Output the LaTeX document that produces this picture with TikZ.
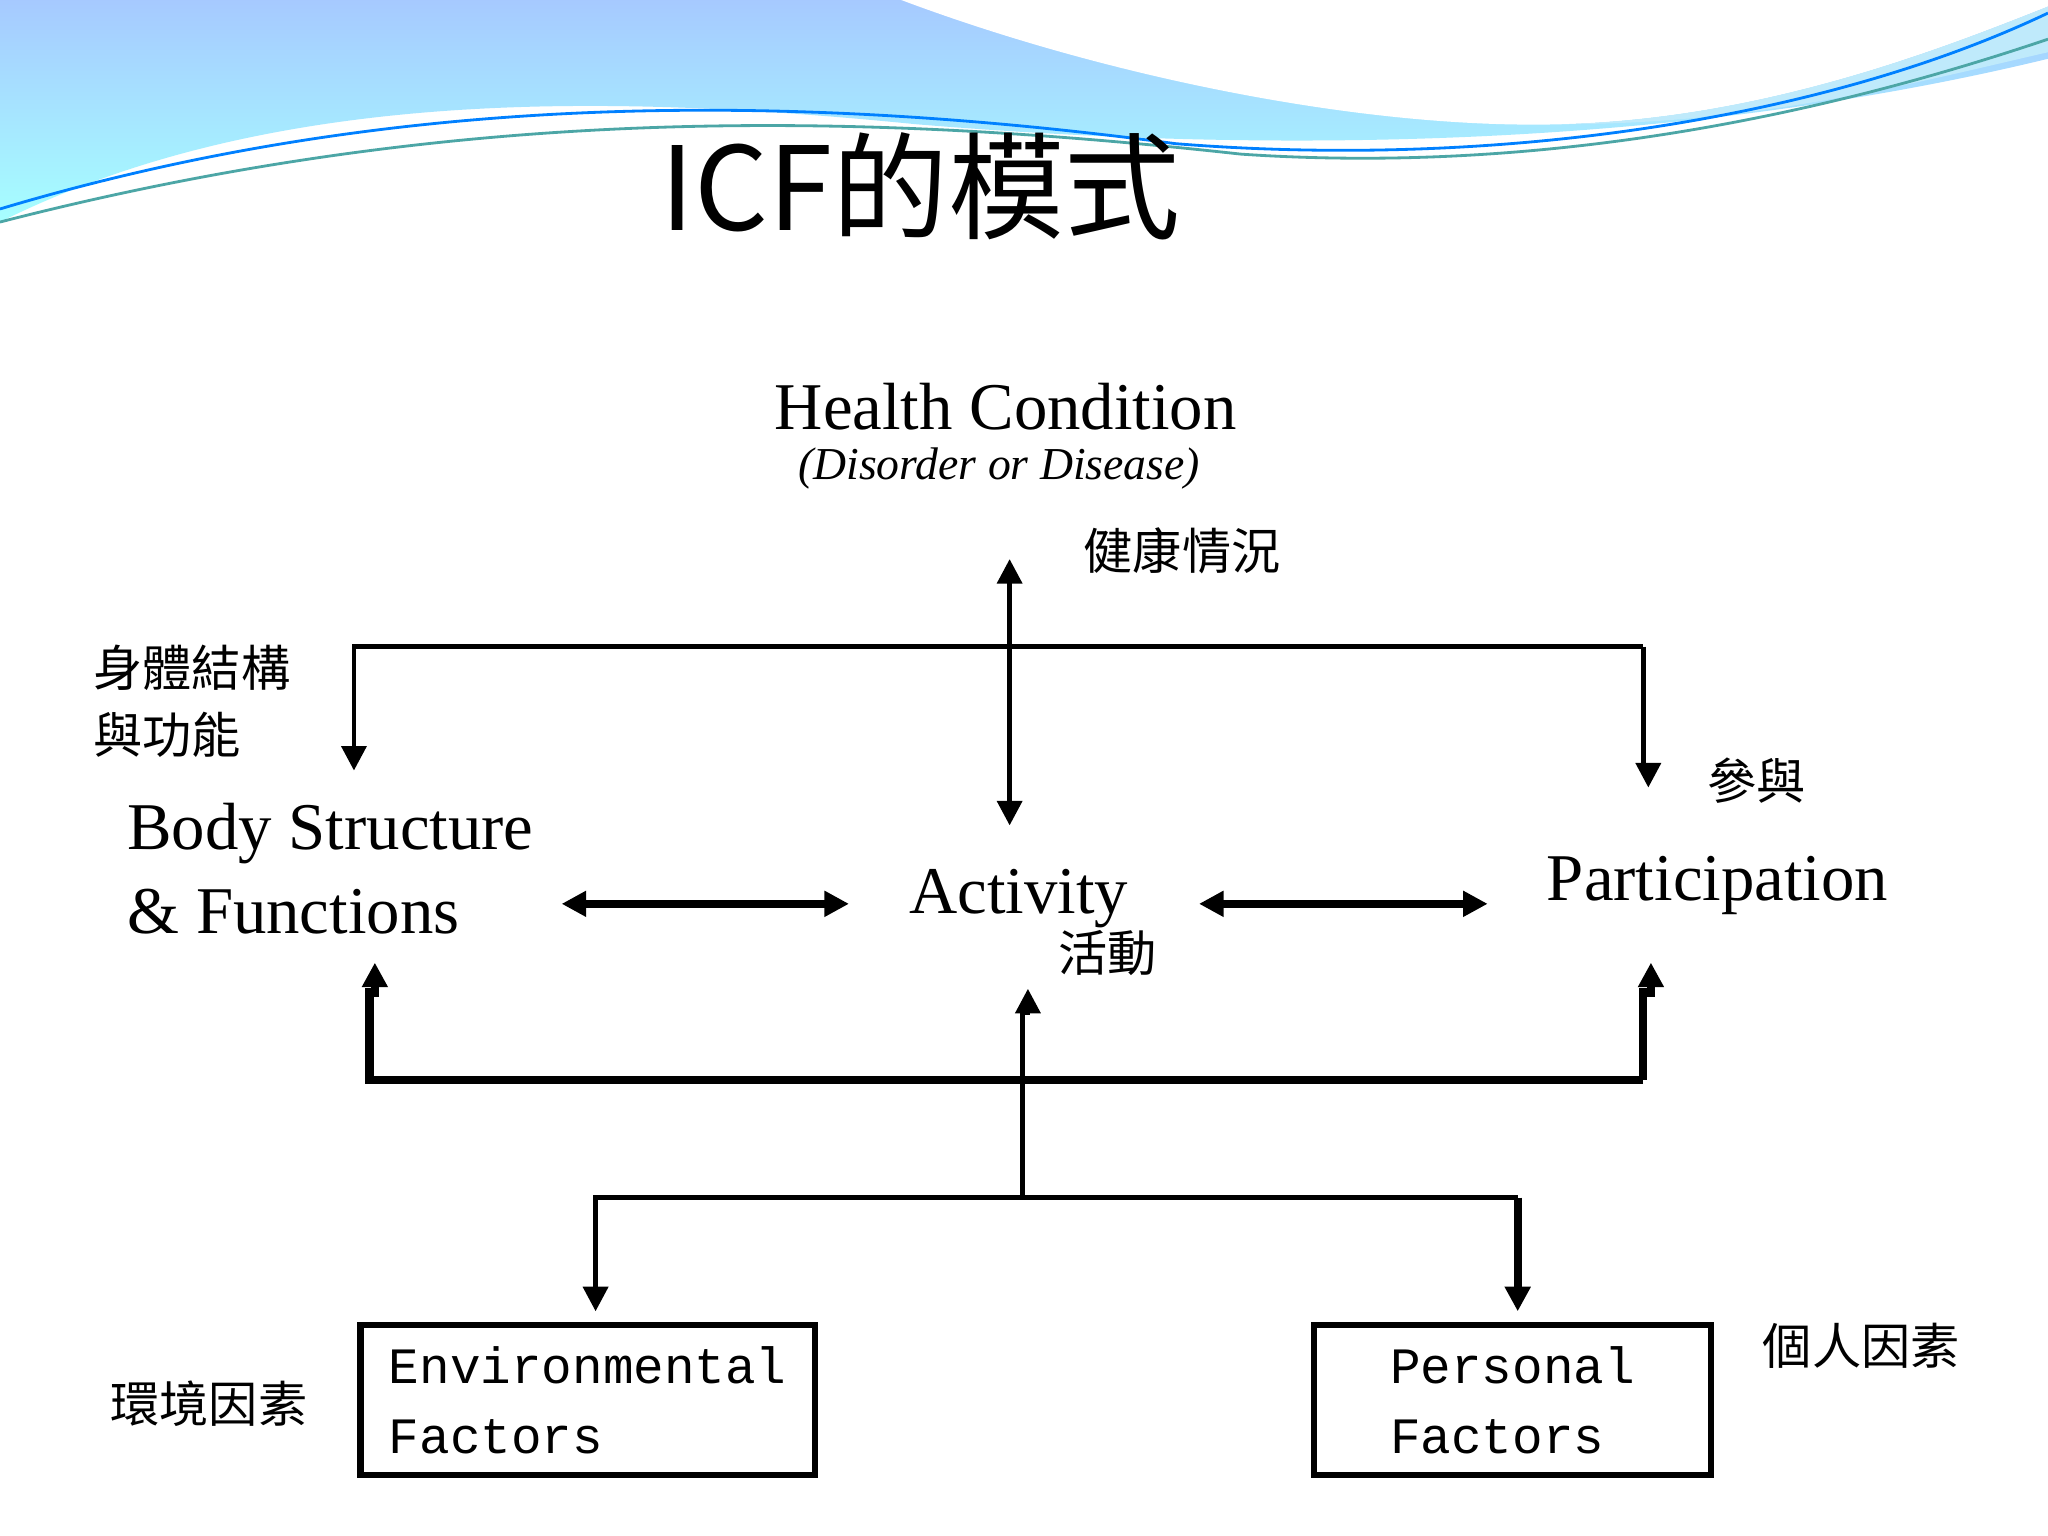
\documentclass[tikz,border=0pt]{standalone}
\usepackage{fontspec}
\setmainfont{Liberation Serif}
\newfontfamily\cjk{Noto Sans CJK TC}
\newfontfamily\mono{Liberation Mono}
\usetikzlibrary{arrows.meta}
\begin{document}
\begin{tikzpicture}[x=0.013061cm,y=-0.013061cm,
  ln/.style={line width=1.4pt},
  thk/.style={line width=2.4pt},
  tip/.style={-{Triangle[length=7pt,width=7pt]}},
  tips/.style={{Triangle[length=7pt,width=7pt]}-{Triangle[length=7pt,width=7pt]}},
  lab/.style={font=\fontsize{19}{24}\selectfont},
  zh/.style={font=\cjk\fontsize{14}{19}\selectfont, align=left},
  box/.style={draw, line width=1.8pt, minimum width=348*0.013061cm, minimum height=115*0.013061cm, align=left, font=\mono\fontsize{14.5}{20}\selectfont}]
\useasboundingbox (0,0) rectangle (1568,1176);
\fill[white] (0,0) rectangle (1568,1176);
% wave
\shade[top color=cyan!40!blue!35, bottom color=cyan!35] (0,0) -- (1568,0) -- (1568,45) .. controls (1300,110) and (1000,120) .. (700,95) .. controls (450,70) and (200,70) .. (0,170) -- cycle;
\fill[white] (690,0) .. controls (850,60) and (1050,100) .. (1200,95) .. controls (1350,90) and (1480,40) .. (1568,5) -- (1568,0) -- cycle;
\fill[cyan!25] (1568,5) .. controls (1480,40) and (1350,90) .. (1200,95) .. controls (1350,95) and (1480,60) .. (1568,40) -- cycle;
\draw[blue!50!cyan, line width=0.8pt] (0,160) .. controls (300,70) and (600,70) .. (900,110) .. controls (1150,130) and (1400,90) .. (1568,10);
\draw[teal!70, line width=0.8pt] (0,170) .. controls (350,80) and (650,85) .. (950,118) .. controls (1200,135) and (1420,80) .. (1568,30);
% title
\node (title) at (705,143) {\cjk\fontsize{33}{40}\selectfont ICF的模式};
% labels
\node[lab] (hc) at (770,311) {Health Condition};
\node (dd) at (765,359) {\itshape\fontsize{13}{16}\selectfont (Disorder or Disease)};
\node[zh] (hczh) at (905,422) {健康情況};
\node[lab, align=left, anchor=west] (bsf) at (88,665) {Body Structure\\ \& Functions};
\node[zh] (bsfzh) at (147,537) {身體結構\\與功能};
\node[lab] (act) at (780,688) {Activity};
\node[zh] (actzh) at (848,730) {活動};
\node[lab] (par) at (1315,678) {Participation};
\node[zh] (parzh) at (1345,598) {參與};
\node[box] (env) at (450,1072) {Environmental\\Factors};
\node[box, minimum width=304*0.013061cm] (per) at (1158,1072) {Personal\\Factors};
\node[zh] (envzh) at (160,1075) {環境因素};
\node[zh] (perzh) at (1425,1030) {個人因素};
% coordinates
\coordinate (t1) at (773,428); \coordinate (t2) at (773,632);
\coordinate (l1) at (271,590); \coordinate (r1) at (1262,603);
\coordinate (a1) at (430,692); \coordinate (a2) at (650,692);
\coordinate (a3) at (918,692); \coordinate (a4) at (1139,692);
\coordinate (bl) at (287,737); \coordinate (br) at (1264,737);
\coordinate (bm) at (787,757);
\coordinate (e1) at (456,1004); \coordinate (p1) at (1162,1004);
% connectors
\draw[ln, tips] (t1) -- (t2);
\draw[ln, tip] (1258,495) -- (271,495) -- (l1);
\draw[ln, tip] (1258,495) -- (1258,590) -| (r1);
\draw[thk, tips] (a1) -- (a2);
\draw[thk, tips] (a3) -- (a4);
\draw[thk, tip] (1258,827) -- (283,827) -- (283,760) -| (bl);
\draw[thk, tip] (1258,827) -- (1258,760) -| (br);
\draw[ln, tip] (783,827) -- (783,775) -| (bm);
\draw[ln] (783,827) -- (783,917);
\draw[ln, tip] (783,917) -- (456,917) -- (e1);
\draw[ln] (783,917) -- (1162,917);
\draw[thk, tip] (1162,917) -- (p1);
\end{tikzpicture}
\end{document}
